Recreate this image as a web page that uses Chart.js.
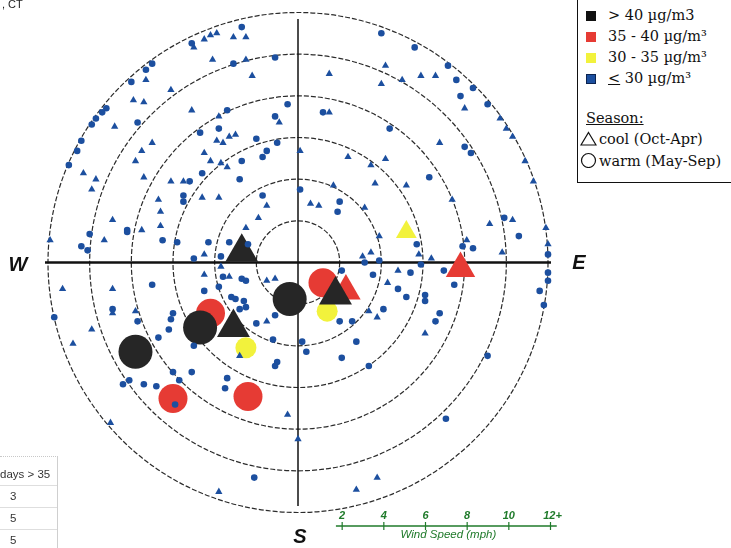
<!DOCTYPE html>
<html>
<head>
<meta charset="utf-8">
<title>Wind rose - PM2.5 by wind speed and direction</title>
<script src="https://cdn.jsdelivr.net/npm/chart.js@4.4.0/dist/chart.umd.min.js"></script>
<style>
  html, body { margin: 0; padding: 0; background: #fff; }
  #wrap { position: relative; width: 731px; height: 548px; overflow: hidden; }
  #windRose { position: absolute; left: 0; top: 0; }

  .site { position: absolute; left: 2px; top: -2px; font: 11px 'Liberation Sans', Arial, sans-serif; color: #222; }

  /* legend box, cut off at the top and right like the scan */
  .key {
    position: absolute; left: 577px; top: -4px; width: 170px; height: 187px;
    box-sizing: border-box; border: 1.5px solid #111; background: #fff;
    font-family: 'DejaVu Serif', 'Liberation Serif', serif; font-size: 14.5px; color: #111;
  }
  .key .row { position: absolute; left: 8px; white-space: nowrap; height: 18px; line-height: 18px; }
  .key .sw { display: inline-block; width: 10px; height: 10px; vertical-align: -1px; margin-right: 12px; }
  .key .season { text-decoration: underline; }
  .key svg { vertical-align: -2px; margin-right: 2px; }

  /* spreadsheet fragment bottom-left */
  .days {
    position: absolute; left: 0; top: 456px; width: 57px; height: 100px;
    border-right: 1px solid #cfcfcf; border-top: 1px dotted #c8c8c8;
    font: 11.5px 'Liberation Sans', Arial, sans-serif; color: #333;
  }
  .days div { height: 21px; line-height: 21px; border-bottom: 1px solid #dedede; padding-left: 10px; }
  .days div.hd { padding-left: 0; height: 28px; line-height: 34px; }
</style>
</head>
<body>
<div id="wrap">
  <canvas id="windRose" width="731" height="548"></canvas>
  <div class="site">, CT</div>

  <div class="key">
    <div class="row" style="top:9px"><span class="sw" style="background:#111"></span>&gt; 40 µg/m3</div>
    <div class="row" style="top:30px"><span class="sw" style="background:#e63b34"></span>35 - 40 µg/m³</div>
    <div class="row" style="top:51px"><span class="sw" style="background:#f2f23c"></span>30 - 35 µg/m³</div>
    <div class="row" style="top:72px"><span class="sw" style="background:#1c4f9f;border:1px solid #0c2450;box-sizing:border-box"></span><u>&lt;</u> 30 µg/m³</div>
    <div class="row season" style="top:112px">Season:</div>
    <div class="row" style="top:133px;left:2px"><svg width="17" height="15"><polygon points="8.5,1.5 16,14 1,14" fill="none" stroke="#111" stroke-width="1.2"/></svg>cool (Oct-Apr)</div>
    <div class="row" style="top:155px;left:2px"><svg width="17" height="16"><circle cx="8.5" cy="8.5" r="7" fill="none" stroke="#111" stroke-width="1.2"/></svg>warm (May-Sep)</div>
  </div>

  <div class="days">
    <div class="hd">days &gt; 35</div>
    <div>3</div>
    <div>5</div>
    <div>5</div>
  </div>
</div>

<script>
'use strict';

// ── Rings (mph) and wind-speed key ─────────────
const RING_SPEEDS = [2, 4, 6, 8, 10, 12];
const SPEED_TICKS = [2, 4, 6, 8, 10, 12];
const SPEED_LABELS = ['2', '4', '6', '8', '10', '12+'];

// ── Daily points as wind vector [east, north] in mph ──
// ≤ 30 µg/m3, cool season (triangles)
const lowCool = [
  [-3.9,11.3],[-4.2,11.2],[-4.5,11.0],[-5.0,10.6],[-3.1,11.1],[-2.5,11.1],[-4.1,10.0],[-2.5,10.0],
  [-7.3,9.0],[-2.2,9.2],[-6.1,8.5],[-7.9,8.0],[-7.4,7.9],[-5.1,7.5],[-8.8,6.7],[-3.8,7.2],[-0.9,6.9],
  [-7.0,5.9],[-7.5,5.5],[-3.9,6.0],[-3.6,5.9],[-3.3,6.2],[-3.0,6.3],[-7.8,5.0],[-4.5,5.4],[-4.2,5.0],
  [-3.7,4.9],[-3.4,4.7],[-10.3,4.4],[-9.7,4.1],[-9.9,3.6],[-7.4,4.2],[-6.1,4.0],[-5.5,4.0],[-6.7,3.1],
  [-4.6,3.2],[-3.8,3.2],[-1.5,2.8],[-1.9,2.2],[-6.6,2.5],[-6.6,1.8],[-8.9,2.1],[-7.5,1.6],[-9.3,1.1],
  [-11.9,1.1],[-2.5,1.7],[-4.5,0.4],
  [8.0,7.6],[9.7,7.1],[10.0,6.6],[10.3,6.2],[10.9,5.0],[11.3,4.0],[10.3,2.1],[9.2,1.9],[11.9,1.7],
  [12.0,0.9],[1.5,9.3],[4.2,9.7],[4.0,8.8],[5.0,9.0],[5.9,9.2],[6.6,9.2],[1.5,7.4],[6.8,5.9],[0.1,5.5],
  [2.4,5.2],[4.2,5.1],[3.5,4.8],[3.7,3.9],[5.2,3.8],[7.4,3.1],[1.7,3.8],[0.6,2.9],[1.0,2.8],[3.2,2.7],
  [3.1,0.3],[3.5,0.5],[5.8,0.4],[6.4,0.2],[8.1,1.1],[9.8,0.5],[4.8,-0.4],[3.9,1.3],
  [-3.7,-0.2],[-4.5,-0.6],[-3.3,-0.7],[-1.5,-0.9],[-1.1,-0.8],[-1.5,-2.9],[-2.8,-4.6],[4.3,-1.0],
  [3.4,-2.4],[3.8,-2.7],[6.1,-3.5],[3.8,-10.6],[2.8,-11.2],[-11.3,-1.3],[-8.9,-1.3],[-8.9,-2.5],
  [-7.8,-2.4],[-9.9,-3.3],[-10.8,-4.0],[-0.5,-7.5],[0.0,-8.7],[-9.0,-7.9],[-3.8,-11.3]
];
// ≤ 30 µg/m3, warm season (circles)
const lowWarm = [
  [-2.7,11.6],[-5.1,10.8],[-3.1,9.8],[-1.1,10.1],[-7.0,9.8],[-7.3,9.5],[-8.0,8.9],[-9.2,7.6],[-9.4,7.4],
  [-9.7,7.1],[-9.9,6.8],[-3.4,7.5],[-0.5,7.8],[-7.7,6.9],[-1.1,7.2],[-3.8,6.6],[-4.7,6.4],[-10.4,6.0],
  [-10.6,5.5],[-11.0,4.8],[-2.0,6.1],[-1.0,5.9],[-1.5,5.5],[-1.7,5.2],[-2.7,5.0],[-4.6,4.4],[-2.8,4.1],
  [-5.2,4.0],[-5.5,3.3],[-5.5,3.0],[-1.7,3.3],[-8.2,1.6],[-8.2,1.5],[-6.5,1.1],[-10.0,1.4],[-10.4,0.8],
  [-10.1,0.6],[-4.3,1.0],[-3.3,1.0],[-5.0,0.2],[-3.7,0.3],[-5.8,1.0],[-2.4,0.9],
  [4.0,11.3],[5.6,10.6],[7.2,9.7],[7.6,9.0],[8.4,8.6],[7.8,8.2],[9.1,7.8],[9.9,2.2],[10.6,1.3],
  [12.0,0.4],[12.0,-0.5],[1.2,7.4],[4.4,6.6],[8.0,5.7],[8.3,5.4],[6.3,4.2],[2.0,3.0],[1.9,2.5],[3.9,0.1],
  [5.7,0.9],[7.9,0.8],[8.4,0.7],[0.1,3.6],[2.1,-0.4],[5.4,-0.5],[7.0,-0.4],[5.9,-0.1],[3.2,0.0],[3.6,-0.6],
  [-3.6,-0.7],[-2.7,-0.8],[-2.5,-0.9],[-3.8,-1.2],[-4.5,-1.4],[-3.2,-1.7],[-3.0,-1.8],[-2.6,-1.9],
  [-2.8,-2.3],[-2.5,-2.2],[-2.0,-3.0],[-1.1,-2.6],[-6.0,-2.5],[-6.1,-2.8],[-6.2,-3.3],[-5.0,-4.1],
  [-1.2,-3.8],[-1.0,-4.9],[-1.1,-5.1],
  [4.8,-1.3],[5.2,-1.7],[4.1,-2.3],[2.0,-2.9],[2.6,-2.9],[0.2,-3.9],[0.4,-4.4],[2.8,-3.9],[2.1,-4.7],
  [3.4,-5.1],[6.1,-1.6],[6.1,-1.9],[12.0,-0.9],[11.6,-1.4],[11.8,-2.1],[6.8,-2.5],[6.6,-2.9],[7.5,-1.1],
  [9.1,-4.6],[7.1,-7.7],
  [-7.0,-1.1],[-11.7,-2.7],[-8.9,-2.3],[-7.7,-2.9],[-6.7,-3.7],[-6.0,-5.4],[-5.7,-5.8],[-5.1,-5.4],
  [-7.4,-6.0],[-6.8,-6.1],[-8.4,-6.0],[-8.1,-5.8],[-5.9,-7.0],[-3.4,-5.7],[-3.5,-6.2],[-2.1,-10.6]
];
// 30 - 35 µg/m3
const midCool  = [[5.2,1.5]];
const midWarm  = [[1.4,-2.4],[-2.5,-4.2]];
// 35 - 40 µg/m3
const highCool = [[7.8,-0.3],[2.3,-1.4]];
const highWarm = [[1.2,-1.0],[-4.2,-2.5],[-6.0,-6.7],[-2.4,-6.6]];
// > 40 µg/m3
const topCool  = [[-2.7,0.5],[1.8,-1.6],[-3.1,-3.2]];
const topWarm  = [[-0.4,-1.8],[-4.7,-3.2],[-7.8,-4.4]];

// ── Colours ────────────────────────────────────
const COL = {
  low:  '#1c4f9f',
  mid:  '#f2f23c',
  high: '#e63b34',
  top:  '#262626',
  ring: '#2b2b2b',
  key:  '#1f7a2a',
};

const toXY = arr => arr.map(([u, v]) => ({ x: u, y: v }));

function series(label, pts, color, style, radius, order) {
  return {
    label,
    data: toXY(pts),
    pointStyle: style,
    pointRadius: radius,
    pointBackgroundColor: color,
    pointBorderColor: color,
    pointBorderWidth: 0,
    order,
    clip: false,
  };
}

// ── Rings, axes, compass letters, speed key ────
const polarGrid = {
  id: 'polarGrid',
  beforeDatasetsDraw(chart) {
    const { ctx, scales: { x, y } } = chart;
    const cx = x.getPixelForValue(0), cy = y.getPixelForValue(0);
    const outer = RING_SPEEDS[RING_SPEEDS.length - 1];
    ctx.save();
    ctx.strokeStyle = COL.ring;
    ctx.lineWidth = 1.2;
    ctx.setLineDash([5, 2]);
    RING_SPEEDS.forEach(s => {
      const r = x.getPixelForValue(s) - cx;
      ctx.beginPath();
      ctx.arc(cx, cy, r, 0, Math.PI * 2);
      ctx.stroke();
    });
    ctx.setLineDash([]);
    ctx.strokeStyle = '#111';
    ctx.lineWidth = 1.5;
    ctx.beginPath();
    ctx.moveTo(cx, y.getPixelForValue(outer));
    ctx.lineTo(cx, y.getPixelForValue(-outer));
    ctx.stroke();
    ctx.lineWidth = 2.5;
    ctx.beginPath();
    ctx.moveTo(x.getPixelForValue(-outer) - 3, cy);
    ctx.lineTo(x.getPixelForValue(outer) + 3, cy);
    ctx.stroke();
    ctx.restore();
  },
  afterDraw(chart) {
    const { ctx, scales: { x, y } } = chart;
    const cx = x.getPixelForValue(0), cy = y.getPixelForValue(0);
    const outer = RING_SPEEDS[RING_SPEEDS.length - 1];
    ctx.save();
    // compass letters
    ctx.fillStyle = '#111';
    ctx.font = 'italic bold 20px "Liberation Sans", Arial, sans-serif';
    ctx.textAlign = 'center';
    ctx.textBaseline = 'middle';
    ctx.fillText('W', x.getPixelForValue(-outer) - 30, cy + 3);
    ctx.fillText('E', x.getPixelForValue(outer) + 31, cy + 1);
    ctx.fillText('S', cx + 2, y.getPixelForValue(-outer) + 31);

    // wind speed key, same mph spacing as the rings
    const kx = v => x.getPixelForValue(v) + 2.5;
    const ky = y.getPixelForValue(-outer) + 20;
    ctx.strokeStyle = COL.key;
    ctx.fillStyle = COL.key;
    ctx.lineWidth = 1.6;
    ctx.beginPath();
    ctx.moveTo(kx(1.7), ky);
    ctx.lineTo(kx(12.3), ky);
    ctx.stroke();
    ctx.lineWidth = 1.2;
    ctx.font = 'italic bold 11px "Liberation Sans", Arial, sans-serif';
    ctx.textBaseline = 'alphabetic';
    SPEED_TICKS.forEach((v, i) => {
      ctx.beginPath();
      ctx.moveTo(kx(v), ky - 4);
      ctx.lineTo(kx(v), ky + 4);
      ctx.stroke();
      ctx.fillText(SPEED_LABELS[i], kx(v) + (i === 5 ? 2 : 0), ky - 7);
    });
    ctx.font = 'italic 11.5px "Liberation Sans", Arial, sans-serif';
    ctx.fillText('Wind Speed (mph)', kx(7.1), ky + 12);
    ctx.restore();
  },
};

new Chart(document.getElementById('windRose'), {
  type: 'scatter',
  data: {
    datasets: [
      series('≤30 cool',  lowCool,  COL.low,  'triangle', 4.2, 0),
      series('≤30 warm',  lowWarm,  COL.low,  'circle',   3.3, 1),
      series('>40 cool',  topCool,  COL.top,  'triangle', 19,  2),
      series('>40 warm',  topWarm,  COL.top,  'circle',   17,  3),
      series('35-40 cool', highCool, COL.high, 'triangle', 17,  4),
      series('35-40 warm', highWarm, COL.high, 'circle',   14.5, 5),
      series('30-35 cool', midCool,  COL.mid,  'triangle', 12,  6),
      series('30-35 warm', midWarm,  COL.mid,  'circle',   10.5, 7),
    ],
  },
  options: {
    responsive: false,
    animation: false,
    devicePixelRatio: 1,
    layout: { padding: { left: 48, right: 183, top: 6, bottom: 42 } },
    scales: {
      x: { type: 'linear', min: -12, max: 12, display: false },
      y: { type: 'linear', min: -12, max: 12, display: false },
    },
    plugins: {
      legend: { display: false },
      tooltip: { enabled: false },
    },
  },
  plugins: [polarGrid],
});
</script>
</body>
</html>
